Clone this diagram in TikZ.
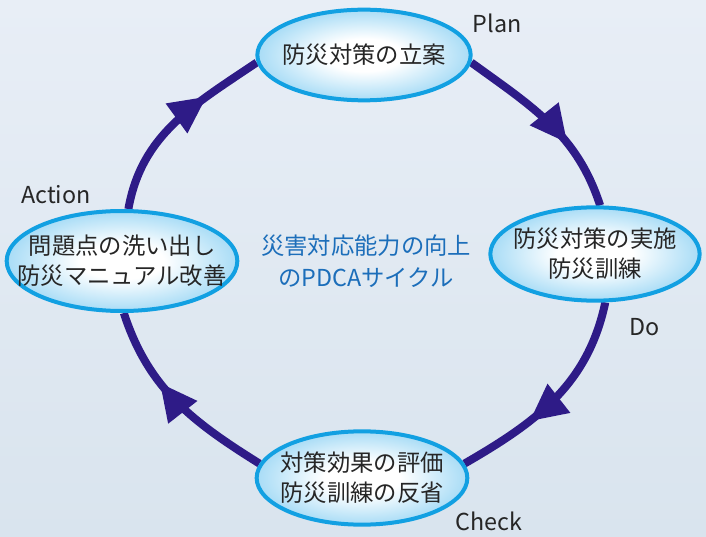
\documentclass[tikz,border=0pt]{standalone}
\usepackage{fontspec}
\newfontfamily\jpfont{Noto Sans CJK JP}
\usepackage{tikz}
\usetikzlibrary{shapes.geometric}
\usetikzlibrary{arrows.meta}
\usetikzlibrary{decorations.markings}
\usetikzlibrary{backgrounds}
\definecolor{bgtop}{RGB}{232,238,246}
\definecolor{bgbot}{RGB}{217,228,238}
\definecolor{ringblue}{RGB}{46,27,135}
\definecolor{edgeblue}{RGB}{18,160,226}
\definecolor{fillblue}{RGB}{168,220,246}
\definecolor{goalblue}{RGB}{28,110,186}
\definecolor{textgray}{RGB}{38,38,38}
\pgfdeclareradialshading{stageshade}{\pgfpoint{0bp}{0bp}}{color(0bp)=(white); color(9bp)=(white); color(25bp)=(fillblue); color(50bp)=(fillblue)}
\tikzset{
  stage/.style={ellipse, draw=edgeblue, line width=3pt, shade, shading=stageshade, inner sep=0pt},
  stagetext/.style={align=center, text=textgray, font=\jpfont\fontsize{17.5}{22.5}\selectfont},
  phase/.style={text=textgray, font=\jpfont\fontsize{17.5}{20}\selectfont},
  goaltext/.style={align=center, text=goalblue, font=\jpfont\fontsize{17.5}{24}\selectfont},
  ring/.style={draw=ringblue, line width=6pt, postaction={decorate},
    decoration={markings, mark=at position #1 with {\arrow{Triangle[length=28pt,width=26pt]}}}},
  ring/.default=.6
}

\begin{document}
\begin{tikzpicture}[x=.75pt, y=.75pt]
    % the four stages
    \node[stage, minimum width=160pt, minimum height=68pt,
      label={[stagetext]center:防災対策の立案}] (plan) at (364,481) {};
    \node[stage, minimum width=157pt, minimum height=70pt,
      label={[stagetext]center:{防災対策の実施\\防災訓練}}] (do) at (595,282) {};
    \node[stage, minimum width=158pt, minimum height=70pt,
      label={[stagetext]center:{対策効果の評価\\防災訓練の反省}}] (chk) at (362,58) {};
    \node[stage, minimum width=173pt, minimum height=75pt,
      label={[stagetext]center:{問題点の洗い出し\\防災マニュアル改善}}] (act) at (122,275) {};
    \node[goaltext] (goal) at (366,275) {災害対応能力の向上\\のPDCAサイクル};
    \node[phase] (planlbl) at (497,513) {Plan};
    \node[phase] (dolbl) at (645,209) {Do};
    \node[phase] (chklbl) at (489,15) {Check};
    \node[phase] (actlbl) at (56,341) {Action};
    \begin{scope}[on background layer]
      \shade[top color=bgtop, bottom color=bgbot] (0,0) rectangle (706,536);
      \draw[ring=.7] (act.83) to[out=80,in=214] (plan.184);
      \draw[ring=.64] (plan.-4) to[out=-36,in=108] (do.84);
      \draw[ring=.65] (do.-78) to[out=-102,in=30] (chk.8);
      \draw[ring=.62] (chk.172) to[out=148,in=-72] (act.-88);
    \end{scope}
\end{tikzpicture}
\end{document}
